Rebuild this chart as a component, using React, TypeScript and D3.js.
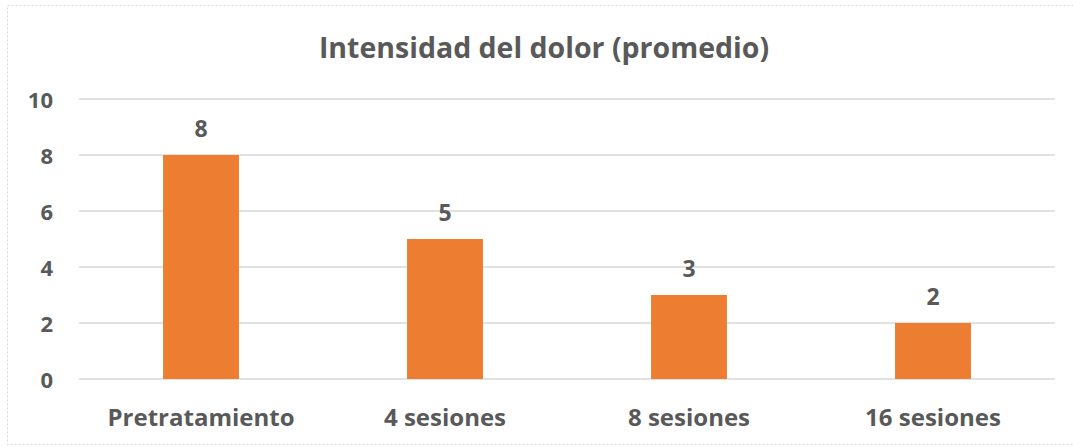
import React from "react";
import * as d3 from "d3";

const categories = ["Pretratamiento", "4 sesiones", "8 sesiones", "16 sesiones"];
const values = [8, 5, 3, 2];
const yTicks = [0, 2, 4, 6, 8, 10];
const title = "Intensidad del dolor (promedio)";

const W = 1073;
const H = 448;
const textColor = "#595959";
const font = "'Open Sans', sans-serif";

export default function App() {
  const x = d3
    .scaleBand<string>()
    .domain(categories)
    .range([79, 1055])
    .paddingInner(0.689)
    .paddingOuter(0.3445);
  const y = d3.scaleLinear().domain([0, 10]).range([379, 99]);

  return (
    <svg
      width={W}
      height={H}
      style={{ position: "absolute", left: 0, top: 0, background: "#fff" }}
      fontFamily={font}
    >
      <rect x={0} y={0} width={W} height={H} fill="#fff" />
      <rect
        x={7.5}
        y={5.5}
        width={W + 10}
        height={439}
        fill="none"
        stroke="#d9d9d9"
        strokeDasharray="2,2"
      />
      <text
        x={544}
        y={47}
        textAnchor="middle"
        dominantBaseline="central"
        fontSize={28.5}
        fontWeight={700}
        fill={textColor}
      >
        {title}
      </text>
      {yTicks.map((t) => (
        <g key={t}>
          <line
            x1={79}
            x2={1055}
            y1={y(t)}
            y2={y(t)}
            stroke="#d9d9d9"
            strokeWidth={1.5}
          />
          <text
            x={53}
            y={y(t)}
            textAnchor="end"
            dominantBaseline="central"
            fontSize={22}
            fontWeight={700}
            fill={textColor}
          >
            {t}
          </text>
        </g>
      ))}
      {categories.map((c, i) => (
        <g key={c}>
          <rect
            x={x(c)}
            y={y(values[i])}
            width={x.bandwidth()}
            height={y(0) - y(values[i])}
            fill="#ED7D31"
          />
          <text
            x={(x(c) ?? 0) + x.bandwidth() / 2}
            y={y(values[i]) - 27}
            textAnchor="middle"
            dominantBaseline="central"
            fontSize={23}
            fontWeight={700}
            fill={textColor}
          >
            {values[i]}
          </text>
          <text
            x={(x(c) ?? 0) + x.bandwidth() / 2}
            y={416}
            textAnchor="middle"
            dominantBaseline="central"
            fontSize={24}
            fontWeight={700}
            fill={textColor}
          >
            {c}
          </text>
        </g>
      ))}
    </svg>
  );
}
